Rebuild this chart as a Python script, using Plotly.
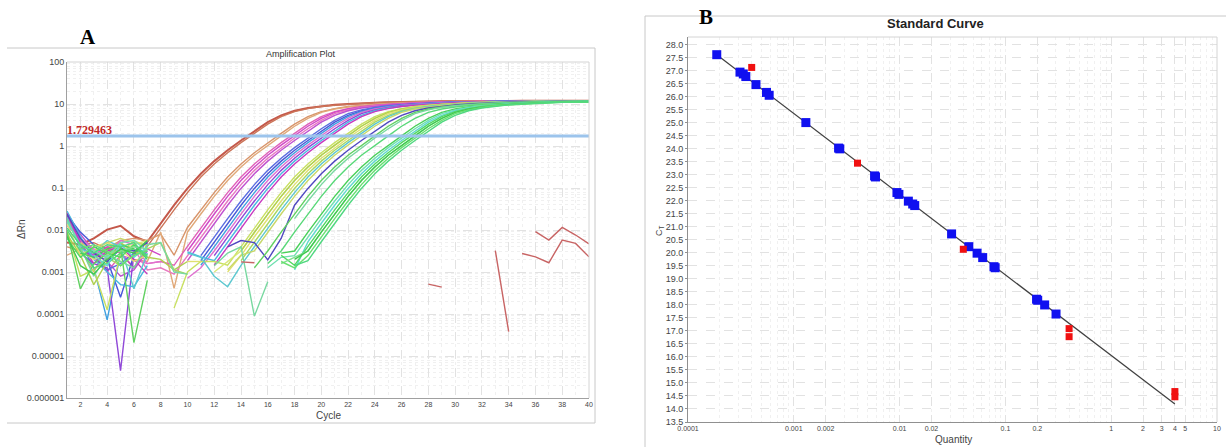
import plotly.graph_objects as go

N = None
cycles = list(range(1, 41))
threshold = 1.729463

# ---- Amplification plot: log10(delta Rn) per cycle 1..40 for each well (None = not shown) ----
w01 = [-2.30, -2.35, -2.20, -1.99, -1.90, -2.15, -2.28,
       -1.84, -1.41, -1.01, -0.66, -0.36, -0.10, 0.13, 0.36, 0.57, 0.73, 0.84, 0.905, 0.95, 0.98, 1.0, 1.02, 1.03, 1.04, 1.05, 1.055,
       1.06, 1.065, 1.065, 1.07, 1.07, 1.07, 1.075, 1.075, 1.075, 1.08, 1.08, 1.08, 1.08]
w02 = [-1.65, -2.35, -2.30, -2.45, -2.55, -2.90, -2.39,
       -1.94, -1.52, -1.11, -0.74, -0.43, -0.16, 0.08, 0.30, 0.52, 0.70, 0.82, 0.89, 0.94, 0.97, 0.995, 1.015, 1.03, 1.04, 1.05, 1.055,
       1.06, 1.065, 1.065, 1.07, 1.07, 1.07, 1.075, 1.075, 1.075, 1.08, 1.08, 1.08, 1.08]
w03 = [-2.40, -2.50, -2.65, -2.45, -2.25, -2.20, -2.25, -2.10, -2.60,
       -1.94, -1.52, -1.11, -0.74, -0.43, -0.16, 0.08, 0.30, 0.52, 0.70, 0.82, 0.89, 0.94, 0.97, 0.995, 1.015, 1.03, 1.04, 1.05, 1.055,
       1.06, 1.065, 1.065, 1.07, 1.07, 1.07, 1.075, 1.075, 1.075, 1.08, 1.08]
w04 = [-2.60, -2.45, -3.00, -2.40, -2.30, -2.70, -2.75, -2.05, -3.39, -2.05,
       -1.62, -1.20, -0.82, -0.50, -0.22, 0.02, 0.24, 0.47, 0.66, 0.80, 0.88, 0.93, 0.965, 0.99, 1.01, 1.025, 1.035, 1.045, 1.05, 1.055,
       1.06, 1.065, 1.065, 1.07, 1.07, 1.07, 1.075, 1.075, 1.075, 1.08]
w05 = [-1.75, -2.25, -2.55, -3.00, -2.60, -2.70, -2.80, -2.75, -2.84, -2.39,
       -1.94, -1.52, -1.11, -0.74, -0.43, -0.16, 0.08, 0.30, 0.52, 0.70, 0.82, 0.89, 0.94, 0.97, 0.995, 1.015, 1.03, 1.04, 1.05, 1.055,
       1.06, 1.065, 1.065, 1.07, 1.07, 1.07, 1.075, 1.075, 1.075, 1.08]
w06 = [-1.70, -2.40, -2.60, -2.40, -2.55, -2.90, -2.45, -2.60, N, -2.50, -2.05,
       -1.62, -1.20, -0.82, -0.50, -0.22, 0.02, 0.24, 0.47, 0.66, 0.80, 0.88, 0.93, 0.965, 0.99, 1.01, 1.025, 1.035, 1.045, 1.05, 1.055,
       1.06, 1.065, 1.065, 1.07, 1.07, 1.07, 1.075, 1.075, 1.075]
w07 = [N, N, -2.70, -2.50, -2.35, -2.45, -2.95, -2.90, -3.05, -2.61, -2.16,
       -1.73, -1.31, -0.92, -0.58, -0.29, -0.04, 0.19, 0.41, 0.61, 0.77, 0.86, 0.92, 0.96, 0.98, 1.005, 1.02, 1.03, 1.04, 1.05, 1.055,
       1.06, 1.065, 1.065, 1.07, 1.07, 1.07, 1.075, 1.075, 1.075]
w08 = [-1.60, -2.10, -2.50, -2.75, -3.10, -2.95, -2.50, N, N, -2.73, -2.28,
       -1.84, -1.41, -1.01, -0.66, -0.36, -0.10, 0.13, 0.36, 0.57, 0.73, 0.84, 0.905, 0.95, 0.98, 1.0, 1.02, 1.03, 1.04, 1.05, 1.055,
       1.06, 1.065, 1.065, 1.07, 1.07, 1.07, 1.075, 1.075, 1.075]
w09 = [-1.65, -2.05, -2.35, -2.70, -3.60, -2.60, -2.25, N, N, N, -2.73, -2.28,
       -1.84, -1.41, -1.01, -0.66, -0.36, -0.10, 0.13, 0.36, 0.57, 0.73, 0.84, 0.905, 0.95, 0.98, 1.0, 1.02, 1.03, 1.04, 1.05, 1.055,
       1.06, 1.065, 1.065, 1.07, 1.07, 1.07, 1.075, 1.075]
w10 = [N, -2.40, -2.65, -2.95, -2.80, -2.55, -2.30, N, N, N, -2.61, -2.16,
       -1.73, -1.31, -0.92, -0.58, -0.29, -0.04, 0.19, 0.41, 0.61, 0.77, 0.86, 0.92, 0.96, 0.98, 1.005, 1.02, 1.03, 1.04, 1.05, 1.055,
       1.06, 1.065, 1.065, 1.07, 1.07, 1.07, 1.075, 1.075]
w11 = [-1.80, -2.30, -2.90, -4.14, -2.55, -2.35, -2.60, N, N, N, -2.84, -2.39,
       -1.94, -1.52, -1.11, -0.74, -0.43, -0.16, 0.08, 0.30, 0.52, 0.70, 0.82, 0.89, 0.94, 0.97, 0.995, 1.015, 1.03, 1.04, 1.05, 1.055,
       1.06, 1.065, 1.065, 1.07, 1.07, 1.07, 1.075, 1.075]
w12 = [-1.90, -2.20, -2.45, -2.60, -2.25, -2.35, -2.80, -2.75, N, -3.15, -2.90, -2.50, -2.05,
       -1.62, -1.20, -0.82, -0.50, -0.22, 0.02, 0.24, 0.47, 0.66, 0.80, 0.88, 0.93, 0.965, 0.99, 1.01, 1.025, 1.035, 1.045, 1.05, 1.055,
       1.06, 1.065, 1.065, 1.07, 1.07, 1.07, 1.075]
w13 = [N, -2.55, -2.80, -2.90, -5.35, -2.55, -2.30, N, N, N, N, -2.61, -2.16,
       -1.73, -1.31, -0.92, -0.58, -0.29, -0.04, 0.19, 0.41, 0.61, 0.77, 0.86, 0.92, 0.96, 0.98, 1.005, 1.02, 1.03, 1.04, 1.05, 1.055,
       1.06, 1.065, 1.065, 1.07, 1.07, 1.07, 1.075]
w14 = [-1.55, -2.15, -2.70, -3.00, -3.30, -3.35, -2.85, N, N, -2.52, -2.64, -2.73, -2.28,
       -1.84, -1.41, -1.01, -0.66, -0.36, -0.10, 0.13, 0.36, 0.57, 0.73, 0.84, 0.905, 0.95, 0.98, 1.0, 1.02, 1.03, 1.04, 1.05, 1.055,
       1.06, 1.065, 1.065, 1.07, 1.07, 1.07, 1.075]
w15 = [-1.60, -2.30, -2.80, -2.50, -2.40, -2.70, -3.05, N, N, N, N, -2.84, -2.39,
       -1.94, -1.52, -1.11, -0.74, -0.43, -0.16, 0.08, 0.30, 0.52, 0.70, 0.82, 0.89, 0.94, 0.97, 0.995, 1.015, 1.03, 1.04, 1.05, 1.055,
       1.06, 1.065, 1.065, 1.07, 1.07, 1.07, 1.075]
w16 = [-2.00, -3.10, -2.95, -3.90, -2.55, -2.25, -2.40, N, -3.86, -3.00, -2.75, -2.75, -2.84, -2.39,
       -1.94, -1.52, -1.11, -0.74, -0.43, -0.16, 0.08, 0.30, 0.52, 0.70, 0.82, 0.89, 0.94, 0.97, 0.995, 1.015, 1.03, 1.04, 1.05, 1.055,
       1.06, 1.065, 1.065, 1.07, 1.07, 1.07]
w17 = [N, -2.50, -2.70, -2.60, -2.50, -2.35, -2.25, N, N, N, N, -3.00, -2.75, -2.50, -2.05,
       -1.62, -1.20, -0.82, -0.50, -0.22, 0.02, 0.24, 0.47, 0.66, 0.80, 0.88, 0.93, 0.965, 0.99, 1.01, 1.025, 1.035, 1.045, 1.05, 1.055,
       1.06, 1.065, 1.065, 1.07, 1.07]
w18 = [-2.10, -2.60, -3.30, -2.75, -2.30, -2.50, -2.65, -2.70, -2.95, -2.75, N, N, N, -2.50, -2.05,
       -1.62, -1.20, -0.82, -0.50, -0.22, 0.02, 0.24, 0.47, 0.66, 0.80, 0.88, 0.93, 0.965, 0.99, 1.01, 1.025, 1.035, 1.045, 1.05, 1.055,
       1.06, 1.065, 1.065, 1.07, 1.07]
w19 = [-1.85, -2.60, -2.40, -2.30, -2.45, -2.75, -2.60, N, N, -2.75, -2.75, N, -3.00, -2.61, -2.16,
       -1.73, -1.31, -0.92, -0.58, -0.29, -0.04, 0.19, 0.41, 0.61, 0.77, 0.86, 0.92, 0.96, 0.98, 1.005, 1.02, 1.03, 1.04, 1.05, 1.055,
       1.06, 1.065, 1.065, 1.07, 1.07]
w20 = [N, N, -2.95, -2.65, -2.85, -2.60, -2.45, -2.30, -2.95, -3.05, N, N, N, -2.73, -2.28,
       -1.84, -1.41, -1.01, -0.66, -0.36, -0.10, 0.13, 0.36, 0.57, 0.73, 0.84, 0.905, 0.95, 0.98, 1.0, 1.02, 1.03, 1.04, 1.05, 1.055,
       1.06, 1.065, 1.065, 1.07, 1.07]
w21 = [-1.70, -2.45, -2.55, -2.25, -2.40, -3.40, -2.55, N, N, -2.55, -2.65, -3.10, -3.35, -2.84, -2.39,
       -1.94, -1.52, -1.11, -0.74, -0.43, -0.16, 0.08, 0.30, 0.52, 0.70, 0.82, 0.89, 0.94, 0.97, 0.995, 1.015, 1.03, 1.04, 1.05, 1.055,
       1.06, 1.065, 1.065, 1.07, 1.07]
w22 = [N, -2.30, -2.50, -2.30, -2.20, -2.30, -2.35, N, N, N, N, N, -2.95, -2.60, -2.50, -2.05,
       -1.62, -1.20, -0.82, -0.50, -0.22, 0.02, 0.24, 0.47, 0.66, 0.80, 0.88, 0.93, 0.965, 0.99, 1.01, 1.025, 1.035, 1.045, 1.05, 1.055,
       1.06, 1.065, 1.065, 1.07]
w23 = [-1.62, -2.20, -2.55, -2.75, -2.45, -2.50, -2.30, N, N, N, N, N, -2.40, -2.25, -2.30, -2.71, -2.20,
       -1.41, -1.01, -0.66, -0.36, -0.10, 0.13, 0.36, 0.57, 0.73, 0.84, 0.905, 0.95, 0.98, 1.0, 1.02, 1.03, 1.04, 1.05, 1.055,
       1.06, 1.065, 1.065, 1.07]
w24 = [-2.05, -3.40, -2.80, -2.55, -2.40, -4.68, -3.20, N, N, N, N, N, N, N, -2.90, -2.50, -2.05,
       -1.62, -1.20, -0.82, -0.50, -0.22, 0.02, 0.24, 0.47, 0.66, 0.80, 0.88, 0.93, 0.965, 0.99, 1.01, 1.025, 1.035, 1.045, 1.05, 1.055,
       1.06, 1.065, 1.065]
w25 = [-1.75, -2.40, -3.10, -2.60, -2.75, -2.90, -2.35, -2.30, -3.00, -3.05, N, -2.85, -2.55, -2.40, -4.05, -3.23, N,
       -1.73, -1.31, -0.92, -0.58, -0.29, -0.04, 0.19, 0.41, 0.61, 0.77, 0.86, 0.92, 0.96, 0.98, 1.005, 1.02, 1.03, 1.04, 1.05, 1.055,
       1.06, 1.065, 1.065]
w26 = [-2.00, -2.50, -2.90, -2.80, -2.55, -2.45, -2.60, N, N, N, N, N, N, N, N, -2.80, -2.50, -2.05,
       -1.62, -1.20, -0.82, -0.50, -0.22, 0.02, 0.24, 0.47, 0.66, 0.80, 0.88, 0.93, 0.965, 0.99, 1.01, 1.025, 1.035, 1.045, 1.05, 1.055,
       1.06, 1.065]
w27 = [N, -2.55, -2.65, -2.45, -2.35, -2.45, N, N, N, N, N, N, N, N, N, N, -2.55, -2.50, -2.05,
       -1.62, -1.20, -0.82, -0.50, -0.22, 0.02, 0.24, 0.47, 0.66, 0.80, 0.88, 0.93, 0.965, 0.99, 1.01, 1.025, 1.035, 1.045, 1.05, 1.055,
       1.06]
w28 = [-1.80, -2.35, -2.50, -2.65, -2.30, -2.25, -2.50, N, N, N, N, N, N, N, N, -2.90, -2.65, -2.61, -2.16,
       -1.73, -1.31, -0.92, -0.58, -0.29, -0.04, 0.19, 0.41, 0.61, 0.77, 0.86, 0.92, 0.96, 0.98, 1.005, 1.02, 1.03, 1.04, 1.05, 1.055,
       1.06]
w29 = [N, N, -2.60, -2.85, -2.35, -2.65, -2.40, N, N, N, N, N, N, N, N, N, N, -2.95, -2.28,
       -1.84, -1.41, -1.01, -0.66, -0.36, -0.10, 0.13, 0.36, 0.57, 0.73, 0.84, 0.905, 0.95, 0.98, 1.0, 1.02, 1.03, 1.04, 1.05, 1.055,
       1.06]
w30 = [-2.20, -2.65, -2.40, -2.55, -2.65, -2.35, -2.70, N, N, N, N, N, N, N, N, N, -2.60, -2.84, -2.39,
       -1.94, -1.52, -1.11, -0.74, -0.43, -0.16, 0.08, 0.30, 0.52, 0.70, 0.82, 0.89, 0.94, 0.97, 0.995, 1.015, 1.03, 1.04, 1.05, 1.055,
       1.06]
w31 = [N, N, N, -2.55, -2.50, -2.40, -2.45, N, N, N, N, N, N, N, N, N, -2.80, -2.65, -2.50, -2.05,
       -1.62, -1.20, -0.82, -0.50, -0.22, 0.02, 0.24, 0.47, 0.66, 0.80, 0.88, 0.93, 0.965, 0.99, 1.01, 1.025, 1.035, 1.045, 1.05, 1.055]
w32 = [-2.15, -2.85, -3.05, -2.70, -2.45, -2.55, -2.25, N, N, N, N, N, N, N, N, N, N, -2.70, -2.50, -2.05,
       -1.62, -1.20, -0.82, -0.50, -0.22, 0.02, 0.24, 0.47, 0.66, 0.80, 0.88, 0.93, 0.965, 0.99, 1.01, 1.025, 1.035, 1.045, 1.05, 1.055]
w33 = [N, -2.45, -2.35, -2.50, -2.85, -2.60, -2.50, N, N, N, N, N, N, N, N, N, -2.75, -2.90, -2.61, -2.16,
       -1.73, -1.31, -0.92, -0.58, -0.29, -0.04, 0.19, 0.41, 0.61, 0.77, 0.86, 0.92, 0.96, 0.98, 1.005, 1.02, 1.03, 1.04, 1.05, 1.055]
w34 = [-1.95, -2.35, -2.55, -2.35, -2.40, -2.30, -2.65, N, N, N, N, N, N, N, N, N, N, -2.85, -2.73, -2.28,
       -1.84, -1.41, -1.01, -0.66, -0.36, -0.10, 0.13, 0.36, 0.57, 0.73, 0.84, 0.905, 0.95, 0.98, 1.0, 1.02, 1.03, 1.04, 1.05, 1.055]

# no-template controls (only sporadic positive values)
ntc1 = [N] * 13 + [-2.76, -2.78] + [N] * 12 + [-3.29, -3.36, N, N, N, N, N, -2.56, -2.64, -2.78, -2.24, -2.32, -2.64]
ntc2 = [N] * 32 + [-2.49, -4.42, N, -2.04, -2.24, -1.94, -2.12, -2.33]

wells = [w01, w02, w03, w04, w05, w06, w07, w08, w09, w10, w11, w12, w13, w14, w15, w16, w17,
         w18, w19, w20, w21, w22, w23, w24, w25, w26, w27, w28, w29, w30, w31, w32, w33, w34]
well_colors = ["#c4584a", "#cc7458", "#d8946a", "#e0a878", "#e060b8", "#d048c8", "#e878c0", "#c050d0",
               "#4858d8", "#5a6ce0", "#40a0e0", "#e070d0", "#9048d8", "#48b8e0", "#c838c0", "#c8e060",
               "#d8e878", "#b0d050", "#e0e070", "#a8d860", "#5cc8d0", "#c8d868", "#5048c0", "#60d060",
               "#78d8a0", "#58d878", "#48d058", "#70e0b0", "#60d8d0", "#50d860", "#80e090", "#40c850",
               "#68e070", "#50d880"]
ntc_color = "#c86464"

left_yticks = [1e-6, 1e-5, 1e-4, 1e-3, 1e-2, 1e-1, 1, 10, 100]
left_yticktext = ["0.000001", "0.00001", "0.0001", "0.001", "0.01", "0.1", "1", "10", "100"]
left_xticks = list(range(2, 41, 2))

# ---- Standard curve ----
std_qty = [0.0004, 0.004, 0.04, 0.4, 0.4, 4.0, 4.0]
std_ct = [27.13, 23.45, 20.14, 17.09, 16.78, 14.67, 14.47]
unk_qty = [1.87e-4, 3.10e-4, 3.33e-4, 3.52e-4, 4.39e-4, 5.52e-4, 5.85e-4, 1.30e-3, 2.65e-3, 2.72e-3,
           5.80e-3, 5.92e-3, 9.44e-3, 9.85e-3, 0.0121, 0.0133, 0.0139, 0.031, 0.0451, 0.054, 0.061,
           0.078, 0.080, 0.197, 0.202, 0.235, 0.301]
unk_ct = [27.62, 26.95, 26.88, 26.78, 26.47, 26.17, 26.06, 25.01, 24.03, 24.00,
          22.96, 22.92, 22.32, 22.25, 21.99, 21.88, 21.82, 20.73, 20.24, 19.99, 19.82,
          19.47, 19.43, 18.22, 18.18, 18.00, 17.65]
fit_qty = [1.87e-4, 4.0]
fit_ct = [27.62, 14.19]
right_xticks = [0.0001, 0.001, 0.002, 0.01, 0.02, 0.1, 0.2, 1, 2, 3, 4, 5, 10]
right_xticktext = ["0.0001", "0.001", "0.002", "0.01", "0.02", "0.1", "0.2", "1", "2", "3", "4", "5", "10"]
right_yticks = [13.5 + 0.5 * i for i in range(30)]

fig = go.Figure()

for i, (w, c) in enumerate(zip(wells, well_colors)):
    assert len(w) == 40, len(w)
    fig.add_trace(go.Scatter(x=cycles, y=[None if v is None else 10 ** v for v in w], mode="lines",
                             line=dict(color=c, width=2.0 if i == 0 else 1.4), connectgaps=False,
                             hoverinfo="skip", xaxis="x", yaxis="y"))
for w in (ntc1, ntc2):
    assert len(w) == 40, len(w)
    fig.add_trace(go.Scatter(x=cycles, y=[None if v is None else 10 ** v for v in w], mode="lines",
                             line=dict(color=ntc_color, width=1.4), connectgaps=False, hoverinfo="skip",
                             xaxis="x", yaxis="y"))

fig.add_trace(go.Scatter(x=[1, 40], y=[threshold, threshold], mode="lines",
                         line=dict(color="#9cc4ec", width=3), hoverinfo="skip", xaxis="x", yaxis="y"))

fig.add_trace(go.Scatter(x=fit_qty, y=fit_ct, mode="lines", line=dict(color="#404040", width=1.2),
                         xaxis="x2", yaxis="y2", hoverinfo="skip"))
fig.add_trace(go.Scatter(x=unk_qty, y=unk_ct, mode="markers",
                         marker=dict(symbol="square", size=9, color="#1010f0"), xaxis="x2", yaxis="y2"))
fig.add_trace(go.Scatter(x=std_qty, y=std_ct, mode="markers",
                         marker=dict(symbol="square", size=7, color="#f01010"), xaxis="x2", yaxis="y2"))

W, H = 1226, 447
def px(x): return x / W
def py(y): return 1 - y / H

grid_major = "#e2e2e2"
grid_minor = "#f0f0f0"
tick_font = dict(family="Liberation Sans, Arial, sans-serif", color="#444")

fig.update_layout(
    width=W, height=H, margin=dict(l=0, r=0, t=0, b=0, autoexpand=False),
    paper_bgcolor="white", plot_bgcolor="white", showlegend=False,
    xaxis=dict(domain=[px(67), px(589)], anchor="y", range=[1, 40], tickmode="array", tickvals=left_xticks,
               tickfont=dict(size=7, **tick_font), showgrid=True, gridcolor=grid_major, griddash="dash", gridwidth=1,
               minor=dict(dtick=1, showgrid=True, gridcolor=grid_minor, griddash="dot"),
               showline=True, linecolor="#a0a0a0", zeroline=False, ticks="", automargin=False),
    yaxis=dict(domain=[py(398), py(62)], anchor="x", type="log", range=[-6, 2], tickmode="array",
               tickvals=left_yticks, ticktext=left_yticktext, tickfont=dict(size=9, **tick_font),
               showgrid=True, gridcolor=grid_major, griddash="dash",
               minor=dict(dtick="D1", showgrid=True, gridcolor=grid_minor, griddash="dot"),
               showline=True, linecolor="#a0a0a0", zeroline=False, ticks="", automargin=False),
    xaxis2=dict(domain=[px(688), px(1217)], anchor="y2", type="log", range=[-4, 1], tickmode="array",
                tickvals=right_xticks, ticktext=right_xticktext, tickfont=dict(size=7, **tick_font),
                showgrid=True, gridcolor=grid_major, griddash="dash",
                minor=dict(dtick="D1", showgrid=True, gridcolor=grid_minor, griddash="dot"),
                showline=True, linecolor="#909090", zeroline=False, ticks="", automargin=False),
    yaxis2=dict(domain=[py(422), py(37)], anchor="x2", range=[13.5, 28.3], tickmode="array",
                tickvals=right_yticks, ticktext=[f"{v:.1f}" for v in right_yticks],
                tickfont=dict(size=9, **tick_font), showgrid=True, gridcolor=grid_major, griddash="dash",
                showline=True, linecolor="#909090", zeroline=False, ticks="outside", ticklen=2,
                tickcolor="#909090", automargin=False),
)

frame = "#c8c8c8"
edge = "#d4d4d4"
def hline(x0, x1, y, color):
    return dict(type="line", xref="paper", yref="paper", x0=x0, x1=x1, y0=y, y1=y, line=dict(color=color, width=1))
def vline(x, y0, y1, color):
    return dict(type="line", xref="paper", yref="paper", x0=x, x1=x, y0=y0, y1=y1, line=dict(color=color, width=1))
shapes = [
    hline(px(7), px(595), py(48), frame), vline(px(595), py(48), py(423), frame), hline(px(7), px(595), py(423), frame),
    hline(px(67), px(589), py(62), edge), vline(px(589), py(62), py(398), edge),
    hline(px(645), 1, py(16), frame), vline(px(645), py(16), 0, frame),
    hline(px(688), px(1217), py(37), edge), vline(px(1217), py(37), py(422), edge),
]
fig.update_layout(shapes=shapes)

sans = "Liberation Sans, Arial, sans-serif"
serif = "Liberation Serif, Times New Roman, serif"
ann = [
    dict(text="<b>A</b>", x=px(88), y=py(37), font=dict(family=serif, size=21, color="black")),
    dict(text="<b>B</b>", x=px(706), y=py(17), font=dict(family=serif, size=21, color="black")),
    dict(text="Amplification Plot", x=px(301), y=py(54), font=dict(family=sans, size=9, color="#333")),
    dict(text="ΔRn", x=px(21), y=py(230), textangle=-90, font=dict(family=sans, size=10, color="#444")),
    dict(text="Cycle", x=px(328), y=py(415), font=dict(family=sans, size=10, color="#444")),
    dict(text="<b>Standard Curve</b>", x=px(935), y=py(23), font=dict(family=sans, size=13, color="#222")),
    dict(text="C<sub>T</sub>", x=px(659), y=py(230), textangle=-90, font=dict(family=sans, size=9, color="#444")),
    dict(text="Quantity", x=px(953), y=py(439), font=dict(family=sans, size=10, color="#444")),
]
annotations = [dict(xref="paper", yref="paper", showarrow=False, xanchor="center", yanchor="middle", **a) for a in ann]
annotations.append(dict(text="<b>1.729463</b>", xref="x", yref="y", x=1, y=0.2379, xanchor="left", yanchor="bottom",
                        showarrow=False, yshift=-3, xshift=-2,
                        font=dict(family=serif, size=12, color="#c02828")))
fig.update_layout(annotations=annotations)

fig.write_html("out.html")
